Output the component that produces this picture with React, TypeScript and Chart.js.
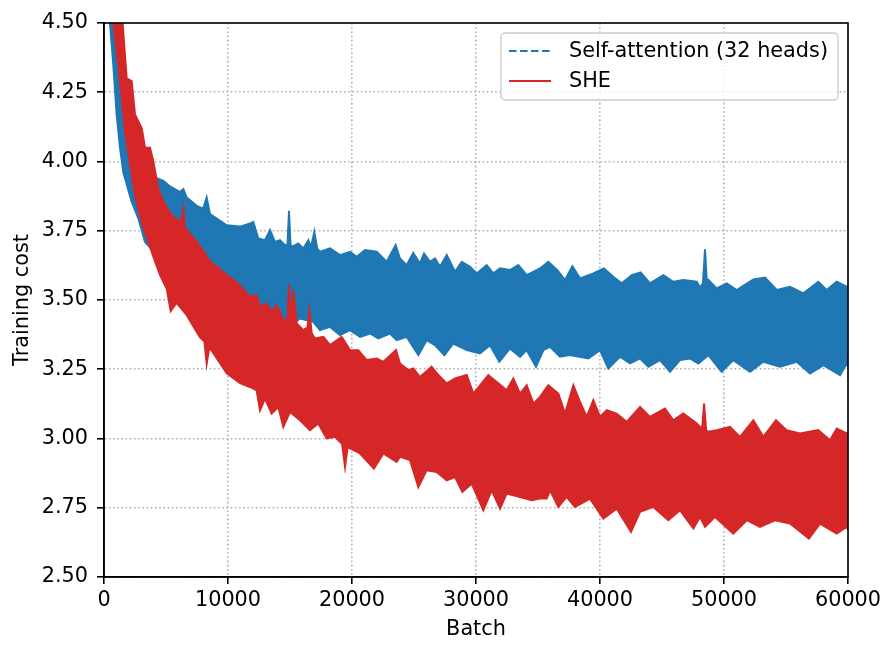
import { useEffect, useRef } from 'react';
import { Chart, registerables } from 'chart.js';

Chart.register(...registerables);

const FONT = '"DejaVu Sans", "Liberation Sans", sans-serif';
const FONT_SIZE = 20.8;
const BLUE = '#1f77b4';
const RED = '#d62728';

// the raw curves are very noisy, so each one is kept as the upper and
// lower edge of its band: [batch, training cost]
const selfAttnUpper: [number, number][] = [
  [400, 4.9], [900, 4.5], [1500, 4.3], [2500, 4.06], [3500, 3.96], [4250, 3.94],
  [4790, 3.93], [5320, 3.91], [6100, 3.89], [6400, 3.9], [6670, 3.87], [7480, 3.84],
  [8000, 3.83], [8280, 3.87], [8550, 3.81], [9900, 3.77], [11000, 3.765],
  [11770, 3.776], [12040, 3.782], [12440, 3.722], [12980, 3.716], [13390, 3.752], [13790, 3.71],
  [14190, 3.716], [14600, 3.698], [14800, 3.7], [14920, 3.822], [15040, 3.7], [15140, 3.692],
  [15670, 3.704], [16070, 3.686], [16480, 3.716], [16700, 3.69], [16960, 3.746], [17200, 3.685],
  [17420, 3.674], [18230, 3.686], [19030, 3.662], [19840, 3.674], [20380, 3.656], [21050, 3.68],
  [21990, 3.674], [22800, 3.638], [23520, 3.698], [23870, 3.65],
  [24410, 3.626], [24940, 3.67], [25480, 3.632], [25810, 3.668], [26290, 3.638], [26690, 3.65],
  [27100, 3.62], [27640, 3.662], [28310, 3.602], [28850, 3.638], [29520, 3.62], [30060, 3.596],
  [30860, 3.626], [31400, 3.596], [31940, 3.614], [32740, 3.608], [33410, 3.626], [34090, 3.59],
  [35160, 3.614], [35830, 3.638],
  [36560, 3.608], [37180, 3.572], [37770, 3.622], [38390, 3.578], [39460, 3.596], [40320, 3.614],
  [41070, 3.584], [41750, 3.56], [42560, 3.59], [43280, 3.6], [44030, 3.56], [45110, 3.59],
  [45910, 3.566], [46720, 3.572], [47800, 3.566],
  [48060, 3.545], [48300, 3.56], [48470, 3.683], [48620, 3.56], [48740, 3.572], [49410, 3.542],
  [50220, 3.56], [51020, 3.536], [52370, 3.574], [53310, 3.581], [54250, 3.536], [55320, 3.548],
  [56400, 3.524], [57600, 3.566], [58280, 3.536], [59090, 3.566], [59890, 3.548], [60000, 3.55],
];

const selfAttnLower: [number, number][] = [
  [400, 4.62], [480, 4.5], [750, 4.35], [1020, 4.17], [1290, 4.05], [1560, 3.96],
  [2230, 3.855], [2770, 3.795], [3300, 3.71], [3700, 3.69], [5000, 3.62], [7000, 3.55],
  [9000, 3.51], [11000, 3.48], [12580, 3.46], [14000, 3.43],
  [15270, 3.415], [15810, 3.433], [16880, 3.421], [17420, 3.391], [18230, 3.403], [19030, 3.373],
  [19840, 3.391], [20650, 3.367], [21450, 3.379], [22120, 3.361], [23060, 3.379], [23600, 3.355],
  [24410, 3.367], [25350, 3.301], [26020, 3.355], [26690, 3.337], [27450, 3.301], [28170, 3.343],
  [29250, 3.319], [30320, 3.307], [31130, 3.337], [31880, 3.277], [32740, 3.325], [33550, 3.295],
  [34090, 3.319], [34840, 3.259], [35430, 3.319],
  [35970, 3.331], [36770, 3.295], [37580, 3.301], [39060, 3.289], [40000, 3.319], [40670, 3.253],
  [41610, 3.295], [42420, 3.271], [43230, 3.289], [43900, 3.259], [44840, 3.283], [45650, 3.241],
  [46450, 3.283], [47260, 3.289], [47930, 3.271],
  [48740, 3.301], [49810, 3.241], [50750, 3.283], [52100, 3.241], [53170, 3.277], [54520, 3.259],
  [55860, 3.277], [56940, 3.235], [58010, 3.265], [59360, 3.229], [59890, 3.271], [60000, 3.26],
];

const sheUpper: [number, number][] = [
  [600, 5.0], [1500, 4.5], [1830, 4.3], [2230, 4.29], [2500, 4.17], [3040, 4.12],
  [3310, 4.05], [3710, 4.05], [3980, 4.0], [4380, 3.9], [4790, 3.855], [5460, 3.805],
  [6200, 3.78], [6400, 3.83], [6530, 3.76], [7480, 3.71], [8550, 3.64], [9900, 3.59],
  [10800, 3.56],
  [11770, 3.511], [12310, 3.518], [12580, 3.475], [13120, 3.487], [13520, 3.457], [13930, 3.481],
  [14460, 3.427], [14800, 3.43], [14920, 3.554], [15100, 3.44], [15270, 3.536], [15540, 3.415],
  [16070, 3.391], [16400, 3.4], [16560, 3.463], [16750, 3.38], [17020, 3.361], [17690, 3.367],
  [18230, 3.337], [19170, 3.367], [19840, 3.319], [20510, 3.319], [21180, 3.283], [21990, 3.289],
  [22530, 3.277], [23550, 3.319], [23870, 3.271],
  [24540, 3.247], [24940, 3.253], [25480, 3.222], [26420, 3.259], [26960, 3.229], [27640, 3.199],
  [28310, 3.217], [29250, 3.229], [29790, 3.162], [30990, 3.229], [31800, 3.199], [32470, 3.174],
  [33010, 3.217], [33550, 3.162], [34090, 3.192], [34630, 3.126], [35160, 3.15], [35830, 3.192],
  [36640, 3.162], [37180, 3.09], [37850, 3.192], [38390, 3.132], [38930, 3.078], [39460, 3.138],
  [40000, 3.078], [40540, 3.102], [41340, 3.09], [42150, 3.06], [43230, 3.114], [44030, 3.078],
  [45240, 3.108], [45910, 3.066], [46720, 3.09], [47800, 3.054],
  [48060, 3.042], [48250, 3.04], [48390, 3.126], [48560, 3.03], [48740, 3.024], [49410, 3.03],
  [50480, 3.042], [51290, 3.006], [52370, 3.066], [53170, 3.006], [54190, 3.066], [55050, 3.03],
  [56130, 3.018], [57600, 3.03], [58550, 2.994], [59090, 3.036], [59890, 3.018], [60000, 3.02],
];

const sheLower: [number, number][] = [
  [600, 4.62], [750, 4.5], [1150, 4.35], [1430, 4.23], [1690, 4.11], [2100, 3.99],
  [2500, 3.88], [3040, 3.78], [3570, 3.71], [4110, 3.64], [4520, 3.59], [5060, 3.54],
  [5380, 3.46], [5860, 3.49], [6670, 3.445], [7740, 3.365], [8100, 3.35], [8280, 3.27],
  [8500, 3.33], [9900, 3.235], [10970, 3.2],
  [11770, 3.186], [12310, 3.174], [12580, 3.102], [12980, 3.144], [13520, 3.09], [14060, 3.114],
  [14460, 3.042], [15000, 3.096], [15810, 3.066], [16610, 3.03], [17280, 3.054], [17960, 3.0],
  [18630, 3.006], [19200, 2.98], [19440, 2.897], [19650, 2.97], [19840, 2.964], [20650, 2.946],
  [21770, 2.891], [22530, 2.946], [23600, 2.916], [23870, 2.934],
  [24680, 2.922], [25350, 2.825], [26020, 2.885], [26830, 2.879], [27640, 2.849], [28310, 2.861],
  [28900, 2.807], [29650, 2.837], [30590, 2.741], [31260, 2.813], [31940, 2.747], [32470, 2.801],
  [33550, 2.789], [34490, 2.777], [35160, 2.783], [35700, 2.783],
  [35970, 2.813], [36640, 2.753], [37310, 2.789], [37980, 2.753], [39190, 2.783], [40270, 2.711],
  [41340, 2.747], [42500, 2.663], [43230, 2.735], [44300, 2.753], [45510, 2.705], [46450, 2.741],
  [47530, 2.675], [48060, 2.717],
  [48470, 2.681], [49280, 2.717], [50750, 2.657], [51830, 2.705], [52900, 2.681], [54110, 2.705],
  [55320, 2.693], [56850, 2.639], [57740, 2.693], [59090, 2.657], [59890, 2.681], [60000, 2.67],
];

const seriesLabels = ['Self-attention (32 heads)', 'SHE'];
const xTicks = { min: 0, max: 60000, step: 10000 };
const yTicks = { min: 2.5, max: 4.5, step: 0.25 };

const toPoints = (rows: [number, number][]) => rows.map(([x, y]) => ({ x, y }));

// black frame on top of the data, like matplotlib spines
const framePlugin = {
  id: 'frame',
  afterDatasetsDraw(chart: Chart) {
    const { ctx, chartArea } = chart;
    ctx.save();
    ctx.strokeStyle = '#000';
    ctx.lineWidth = 1.6;
    ctx.strokeRect(chartArea.left, chartArea.top, chartArea.right - chartArea.left, chartArea.bottom - chartArea.top);
    ctx.restore();
  },
};

// legend box in the upper right corner of the axes
const legendPlugin = {
  id: 'cornerLegend',
  afterDraw(chart: Chart) {
    const { ctx, chartArea } = chart;
    ctx.save();
    ctx.font = `${FONT_SIZE}px ${FONT}`;
    const textW = Math.max(...seriesLabels.map(l => ctx.measureText(l).width));
    const w = textW + 78;
    const h = 67;
    const left = chartArea.right - 10 - w;
    const top = chartArea.top + 10;

    ctx.beginPath();
    ctx.roundRect(left, top, w, h, 4);
    ctx.fillStyle = 'rgba(255,255,255,0.8)';
    ctx.fill();
    ctx.strokeStyle = '#cccccc';
    ctx.lineWidth = 1.4;
    ctx.stroke();

    const rows = [
      { label: seriesLabels[0], color: BLUE, dash: [7.6, 3.4], y: top + 18 },
      { label: seriesLabels[1], color: RED, dash: [], y: top + 48 },
    ];
    rows.forEach(r => {
      ctx.beginPath();
      ctx.setLineDash(r.dash);
      ctx.strokeStyle = r.color;
      ctx.lineWidth = 2;
      ctx.moveTo(left + 8, r.y);
      ctx.lineTo(left + 50, r.y);
      ctx.stroke();
      ctx.setLineDash([]);
      ctx.fillStyle = '#000';
      ctx.textBaseline = 'middle';
      ctx.fillText(r.label, left + 68, r.y + 1);
    });
    ctx.restore();
  },
};

export default function App() {
  const canvasRef = useRef<HTMLCanvasElement>(null);
  const chartRef = useRef<Chart | null>(null);

  useEffect(() => {
    if (!canvasRef.current) return;
    if (chartRef.current) chartRef.current.destroy();

    const edge = { pointRadius: 0, borderWidth: 2, tension: 0 };
    const tickFont = { family: FONT, size: FONT_SIZE };
    const grid = { color: '#b0b0b0', lineWidth: 1.6, tickLength: 7, tickColor: '#000', tickWidth: 1.6 };
    const border = { color: '#000', width: 1.6, dash: [1.6, 2.6] };

    chartRef.current = new Chart(canvasRef.current, {
      type: 'line',
      data: {
        datasets: [
          { ...edge, label: seriesLabels[0], data: toPoints(selfAttnUpper), borderColor: BLUE, fill: false, order: 2 },
          { ...edge, label: 'selfAttnLower', data: toPoints(selfAttnLower), borderColor: BLUE, backgroundColor: BLUE, fill: '-1', order: 2 },
          { ...edge, label: seriesLabels[1], data: toPoints(sheUpper), borderColor: RED, fill: false, order: 1 },
          { ...edge, label: 'sheLower', data: toPoints(sheLower), borderColor: RED, backgroundColor: RED, fill: '-1', order: 1 },
        ],
      },
      options: {
        responsive: true,
        maintainAspectRatio: false,
        animation: false,
        events: [],
        layout: { padding: { top: 23, right: 48, left: 0, bottom: 0 } },
        plugins: {
          legend: { display: false },
          tooltip: { enabled: false },
        },
        scales: {
          x: {
            type: 'linear',
            min: xTicks.min,
            max: xTicks.max,
            afterFit: (scale) => { scale.height = 78; },
            ticks: {
              stepSize: xTicks.step,
              color: '#000',
              padding: 4,
              font: tickFont,
              callback: (v) => String(v),
            },
            grid,
            border,
            title: { display: true, text: 'Batch', color: '#000', font: tickFont, padding: { top: 0, bottom: 13 } },
          },
          y: {
            min: yTicks.min,
            max: yTicks.max,
            afterFit: (scale) => { scale.width = 104; },
            ticks: {
              stepSize: yTicks.step,
              color: '#000',
              padding: 9,
              font: tickFont,
              callback: (v) => Number(v).toFixed(2),
            },
            grid,
            border,
            title: { display: true, text: 'Training cost', color: '#000', font: tickFont, padding: { top: 10, bottom: 0 } },
          },
        },
      },
      plugins: [framePlugin, legendPlugin],
    });

    return () => {
      if (chartRef.current) {
        chartRef.current.destroy();
        chartRef.current = null;
      }
    };
  }, []);

  return (
    <div style={{ position: 'absolute', left: 0, top: 0, width: 896, height: 655, background: '#fff' }}>
      <canvas ref={canvasRef} />
    </div>
  );
}
